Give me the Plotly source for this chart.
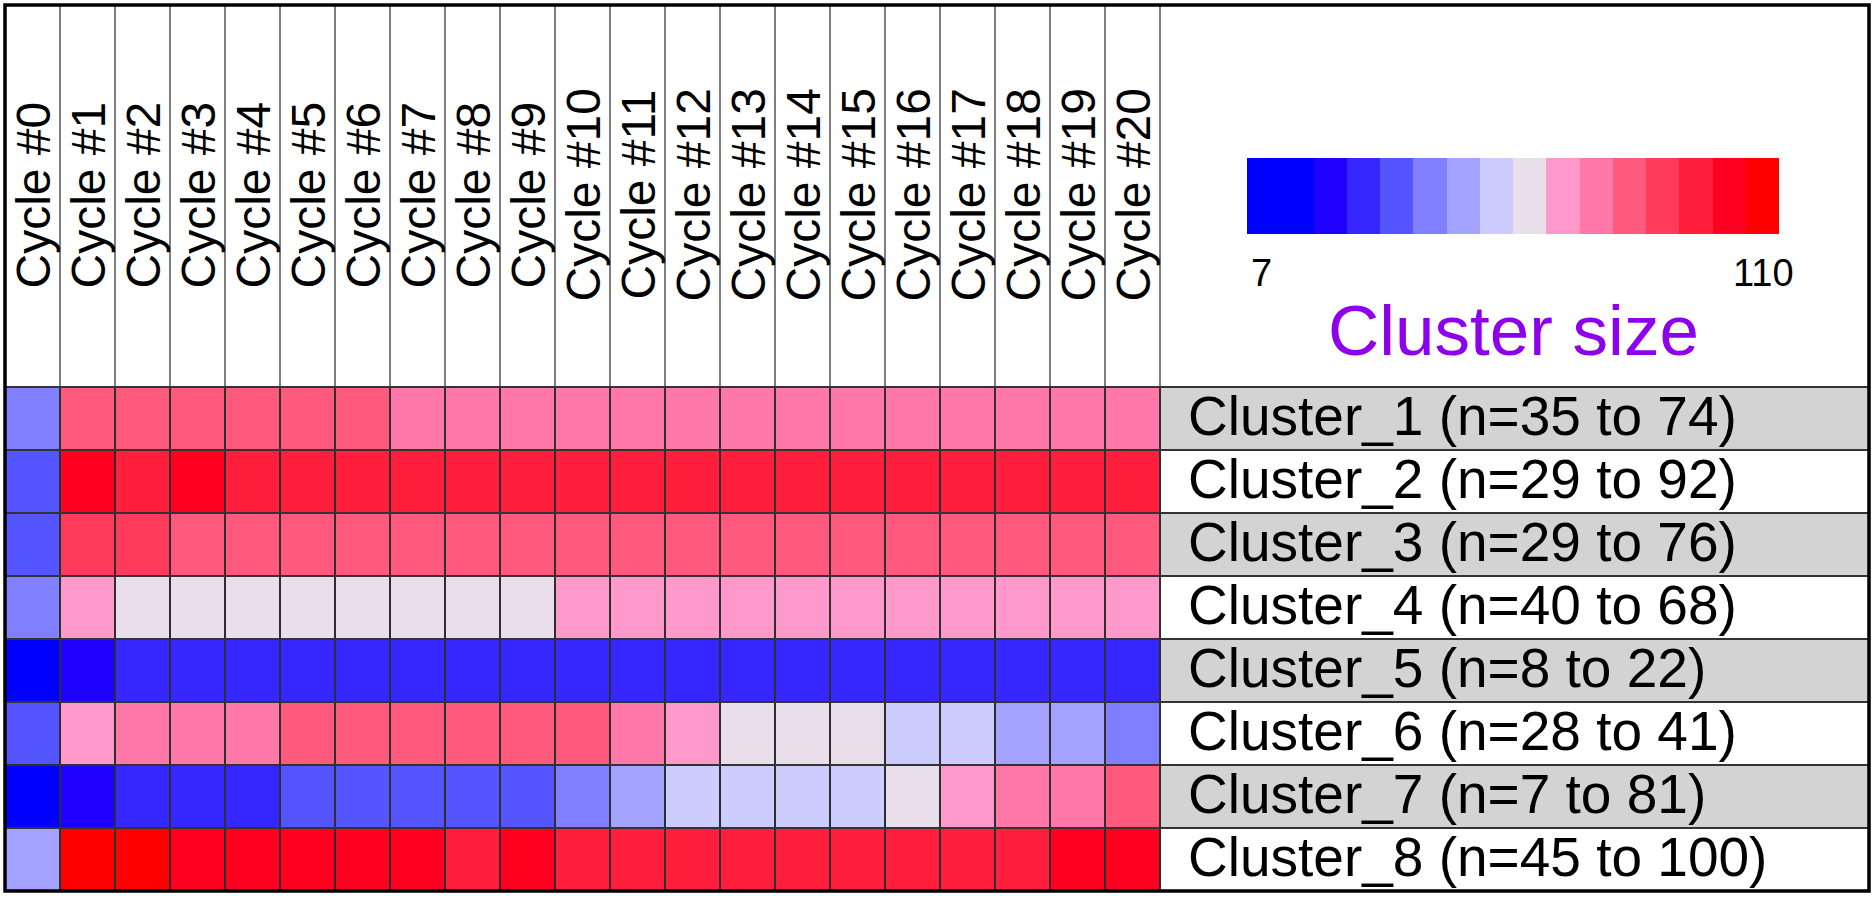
import plotly.graph_objects as go

# ---------------- data ----------------
cycles = ["Cycle #0", "Cycle #1", "Cycle #2", "Cycle #3", "Cycle #4", "Cycle #5", "Cycle #6",
          "Cycle #7", "Cycle #8", "Cycle #9", "Cycle #10", "Cycle #11", "Cycle #12", "Cycle #13",
          "Cycle #14", "Cycle #15", "Cycle #16", "Cycle #17", "Cycle #18", "Cycle #19", "Cycle #20"]

clusters = ["Cluster_1 (n=35 to 74)", "Cluster_2 (n=29 to 92)", "Cluster_3 (n=29 to 76)",
            "Cluster_4 (n=40 to 68)", "Cluster_5 (n=8 to 22)", "Cluster_6 (n=28 to 41)",
            "Cluster_7 (n=7 to 81)", "Cluster_8 (n=45 to 100)"]

cluster_1 = [42, 81, 81, 81, 81, 81, 81, 74, 74, 74, 74, 74, 74, 74, 74, 74, 74, 74, 74, 74, 74]
cluster_2 = [36, 100, 94, 100, 94, 94, 94, 94, 94, 94, 94, 94, 94, 94, 94, 94, 94, 94, 94, 94, 94]
cluster_3 = [36, 87, 87, 81, 81, 81, 81, 81, 81, 81, 81, 81, 81, 81, 81, 81, 81, 81, 81, 81, 81]
cluster_4 = [42, 68, 62, 62, 62, 62, 62, 62, 62, 62, 68, 68, 68, 68, 68, 68, 68, 68, 68, 68, 68]
cluster_5 = [10, 23, 29, 29, 29, 29, 29, 29, 29, 29, 29, 29, 29, 29, 29, 29, 29, 29, 29, 29, 29]
cluster_6 = [36, 68, 74, 74, 74, 81, 81, 81, 81, 81, 81, 74, 68, 62, 62, 62, 55, 55, 48, 48, 42]
cluster_7 = [10, 23, 29, 29, 29, 36, 36, 36, 36, 36, 42, 48, 55, 55, 55, 55, 62, 68, 74, 74, 81]
cluster_8 = [48, 107, 107, 100, 100, 100, 100, 100, 94, 100, 94, 94, 94, 94, 94, 94, 94, 94, 94, 100, 100]

z_min, z_max = 7, 110
bin_colors = ["#0000FF", "#0000FF", "#1E00FF", "#3626FF", "#5555FF", "#7F7FFF", "#A3A3FF", "#CCCCFF",
              "#E9DFEA", "#FF99CC", "#FF78A8", "#FF5A7D", "#FF3A5A", "#FF1F3C", "#FF0020", "#FF0000"]
legend_levels = [10, 16, 23, 29, 36, 42, 48, 55, 62, 68, 74, 81, 87, 94, 100, 107]
legend_title = "Cluster size"

# ---------------- layout geometry ----------------
W, H = 1875, 900
L, R, T, B = 5, 1869, 5, 891          # plot area in pixels
col_w = 55.0
row_h = 63.0
heat_top = 387.0
heat_right = L + col_w * len(cycles)

def xd(px):
    return -0.5 + (px - L) / col_w

def yd(py):
    return -0.5 + (py - heat_top) / row_h

def dom_x(px):
    return (px - L) / (R - L)

def dom_y(py):
    return (B - py) / (B - T)

n = len(bin_colors)
colorscale = []
for i, c in enumerate(bin_colors):
    colorscale.append([i / n, c])
    colorscale.append([(i + 1) / n, c])

z = [cluster_1, cluster_2, cluster_3, cluster_4, cluster_5, cluster_6, cluster_7, cluster_8]
FONT = "Liberation Sans, Arial, Helvetica, sans-serif"

fig = go.Figure()
fig.add_trace(go.Heatmap(
    z=z, x=list(range(len(cycles))), y=list(range(len(clusters))),
    colorscale=colorscale, zmin=z_min, zmax=z_max, showscale=False,
    zsmooth=False, hoverinfo="z"))

fig.add_trace(go.Heatmap(
    z=[legend_levels], x=list(range(len(legend_levels))), y=[0],
    colorscale=colorscale, zmin=z_min, zmax=z_max, showscale=False,
    zsmooth=False, xaxis="x2", yaxis="y2", hoverinfo="z"))

x_lo, x_hi = xd(L), xd(R)
y_top, y_bot = yd(T), yd(B)

shapes = []
# label backgrounds
for r in range(len(clusters)):
    if r % 2 == 0:
        shapes.append(dict(type="rect", xref="x", yref="y", x0=len(cycles) - 0.5, x1=x_hi,
                           y0=r - 0.5, y1=r + 0.5, fillcolor="#D3D3D3", line=dict(width=0),
                           layer="below"))
# header vertical lines
for k in range(len(cycles)):
    shapes.append(dict(type="line", xref="x", yref="y", x0=k + 0.5, x1=k + 0.5,
                       y0=y_top, y1=-0.5, line=dict(color="#3a3a3a", width=1.3)))
# heatmap vertical lines
for k in range(len(cycles)):
    shapes.append(dict(type="line", xref="x", yref="y", x0=k + 0.5, x1=k + 0.5,
                       y0=-0.5, y1=y_bot, line=dict(color="#2e2e2e", width=2)))
# horizontal lines
for r in range(-1, len(clusters) - 1):
    shapes.append(dict(type="line", xref="x", yref="y", x0=x_lo, x1=x_hi,
                       y0=r + 0.5, y1=r + 0.5, line=dict(color="#333333", width=2)))
# outer border
shapes.append(dict(type="rect", xref="paper", yref="paper", x0=0, x1=1, y0=0, y1=1,
                   line=dict(color="black", width=3.5)))

annotations = []
for k, c in enumerate(cycles):
    annotations.append(dict(x=k, y=yd(195), xref="x", yref="y", text=c, showarrow=False,
                            textangle=-90, xanchor="center", yanchor="middle",
                            font=dict(family=FONT, size=48, color="black")))
for r, c in enumerate(clusters):
    annotations.append(dict(x=xd(1186), y=r - 3.0 / row_h, xref="x", yref="y", text=c,
                            showarrow=False, xanchor="left", yanchor="middle",
                            font=dict(family=FONT, size=55, color="black")))
annotations.append(dict(x=xd(1249), y=yd(273), xref="x", yref="y", text=str(z_min),
                        showarrow=False, xanchor="left", yanchor="middle",
                        font=dict(family=FONT, size=38, color="black")))
annotations.append(dict(x=xd(1796), y=yd(273), xref="x", yref="y", text=str(z_max),
                        showarrow=False, xanchor="right", yanchor="middle",
                        font=dict(family=FONT, size=38, color="black")))
annotations.append(dict(x=xd(1513), y=yd(330), xref="x", yref="y", text=legend_title,
                        showarrow=False, xanchor="center", yanchor="middle",
                        font=dict(family=FONT, size=71, color="#8E00EC")))

fig.update_layout(
    width=W, height=H,
    margin=dict(l=L, r=W - R, t=T, b=H - B, pad=0),
    paper_bgcolor="white", plot_bgcolor="white",
    showlegend=False,
    xaxis=dict(range=[x_lo, x_hi], visible=False, fixedrange=True),
    yaxis=dict(range=[y_bot, y_top], visible=False, fixedrange=True),
    xaxis2=dict(domain=[dom_x(1247), dom_x(1779)], anchor="y2", visible=False,
                range=[-0.5, len(legend_levels) - 0.5], fixedrange=True),
    yaxis2=dict(domain=[dom_y(234), dom_y(158)], anchor="x2", visible=False,
                range=[-0.5, 0.5], fixedrange=True),
    shapes=shapes, annotations=annotations,
)

fig.write_html("out.html", config={"displayModeBar": False})
